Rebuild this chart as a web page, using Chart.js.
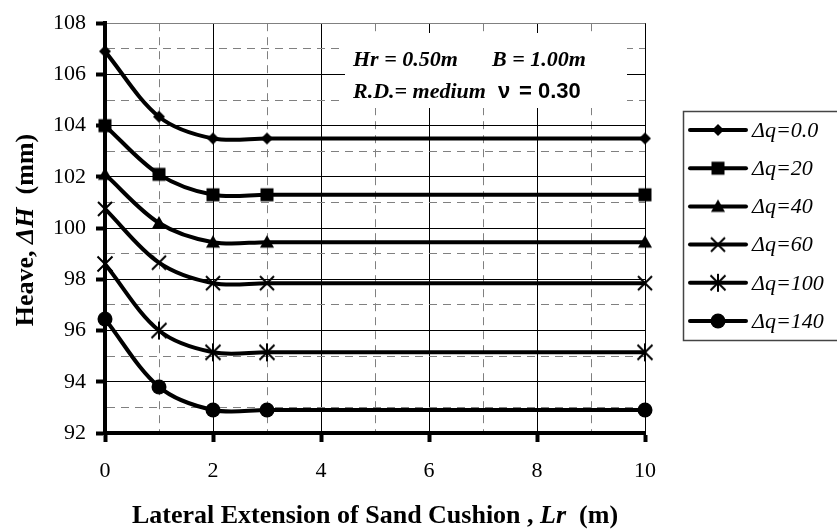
<!DOCTYPE html>
<html>
<head>
<meta charset="utf-8">
<script src="https://cdn.jsdelivr.net/npm/chart.js@4/dist/chart.umd.min.js"></script>
<style>
  html, body { margin: 0; padding: 0; background: #fff; }
  #wrap { width: 837px; height: 531px; }
</style>
</head>
<body>
<div id="wrap"><canvas id="heave"></canvas></div>
<script>
// lateral extension Lr (m)
const lrValues = [0, 1, 2, 3, 10];

// heave (mm) for each load increment
const heaveDq0 = [106.9, 104.35, 103.5, 103.5, 103.5];
const heaveDq20 = [104.0, 102.1, 101.3, 101.3, 101.3];
const heaveDq40 = [102.1, 100.2, 99.45, 99.45, 99.45];
const heaveDq60 = [100.75, 98.65, 97.85, 97.85, 97.85];
const heaveDq100 = [98.6, 96.0, 95.15, 95.15, 95.15];
const heaveDq140 = [96.45, 93.8, 92.9, 92.9, 92.9];

const seriesLabels = ['Δq=0.0', 'Δq=20', 'Δq=40', 'Δq=60', 'Δq=100', 'Δq=140'];
const markerKinds = ['diamond', 'square', 'triangle', 'cross', 'asterisk', 'circle'];

const yTicks = { min: 92, max: 108, step: 1 };
const xTicks = { min: 0, max: 10, step: 1 };

const SERIF = '"Liberation Serif", "Times New Roman", serif';
const SANS = '"Liberation Sans", Arial, sans-serif';

// small black marker images, shared by the lines and the legend
function makeMarker(kind) {
  const c = document.createElement('canvas');
  c.width = 24; c.height = 24;
  const g = c.getContext('2d');
  g.translate(12, 12);
  g.fillStyle = '#000';
  g.strokeStyle = '#000';
  g.lineWidth = 2;
  g.beginPath();
  if (kind === 'diamond') {
    g.moveTo(0, -6); g.lineTo(6, 0); g.lineTo(0, 6); g.lineTo(-6, 0); g.closePath(); g.fill();
  } else if (kind === 'square') {
    g.rect(-6.5, -6.5, 13, 13); g.fill();
  } else if (kind === 'triangle') {
    g.moveTo(0, -7); g.lineTo(7, 5.5); g.lineTo(-7, 5.5); g.closePath(); g.fill();
  } else if (kind === 'cross') {
    g.moveTo(-7, -7); g.lineTo(7, 7); g.moveTo(7, -7); g.lineTo(-7, 7); g.stroke();
  } else if (kind === 'asterisk') {
    g.moveTo(-7.5, -7.5); g.lineTo(7.5, 7.5); g.moveTo(7.5, -7.5); g.lineTo(-7.5, 7.5);
    g.moveTo(0, -9); g.lineTo(0, 9); g.stroke();
  } else {
    g.arc(0, 0, 7.5, 0, Math.PI * 2); g.fill();
  }
  return c;
}
const markers = markerKinds.map(makeMarker);

const seriesData = [heaveDq0, heaveDq20, heaveDq40, heaveDq60, heaveDq100, heaveDq140];
const datasets = seriesData.map((vals, i) => ({
  label: seriesLabels[i],
  data: lrValues.map((x, j) => ({ x: x, y: vals[j] })),
  borderColor: '#000',
  backgroundColor: '#000',
  borderWidth: 4,
  tension: 0.33,
  pointStyle: markers[i],
  pointRadius: 6,
  clip: false
}));

function isMajor(v) { return Math.round(v) % 2 === 0; }

function drawRuns(ctx, runs, x, y, align) {
  let total = 0;
  runs.forEach(r => { ctx.font = r.font; r.w = ctx.measureText(r.text).width; total += r.w; });
  let cx = align === 'center' ? x - total / 2 : x;
  runs.forEach(r => { ctx.font = r.font; ctx.fillText(r.text, cx, y); cx += r.w; });
}

const extras = {
  id: 'extras',
  beforeDatasetsDraw(chart) {
    const ctx = chart.ctx;
    ctx.save();
    // parameters box over the grid
    ctx.fillStyle = '#fff';
    ctx.fillRect(345, 33, 282, 75);
    ctx.fillStyle = '#000';
    ctx.textBaseline = 'alphabetic';
    ctx.textAlign = 'left';
    const bi = 'italic bold 22px ' + SERIF;
    ctx.font = bi;
    ctx.fillText('Hr = 0.50m', 353, 66);
    ctx.fillText('B = 1.00m', 492, 66);
    ctx.fillText('R.D.= medium', 353, 98);
    ctx.font = 'bold 22px ' + SANS;
    ctx.fillText('ν', 498, 98);
    ctx.fillText('= 0.30', 519, 98);
    ctx.restore();
  },
  afterDraw(chart) {
    const ctx = chart.ctx;
    ctx.save();
    ctx.fillStyle = '#000';
    ctx.textAlign = 'left';
    ctx.textBaseline = 'alphabetic';
    const b = 'bold 26px ' + SERIF;
    const bi = 'italic bold 26px ' + SERIF;

    // x axis title
    drawRuns(ctx, [
      { text: 'Lateral Extension of Sand Cushion , ', font: b },
      { text: 'Lr', font: bi },
      { text: '  (m)', font: b }
    ], (chart.chartArea.left + chart.chartArea.right) / 2, 523, 'center');

    // y axis title
    ctx.save();
    ctx.translate(33, 230);
    ctx.rotate(-Math.PI / 2);
    drawRuns(ctx, [
      { text: 'Heave, ', font: b },
      { text: 'ΔH', font: bi },
      { text: '  (mm)', font: b }
    ], 0, 0, 'center');
    ctx.restore();

    // legend
    ctx.strokeStyle = '#444';
    ctx.lineWidth = 1.5;
    ctx.strokeRect(683.5, 111.5, 170, 229);
    ctx.textBaseline = 'middle';
    ctx.font = 'italic 22px ' + SERIF;
    seriesLabels.forEach((lab, i) => {
      const y = 130 + i * 38.2;
      ctx.beginPath();
      ctx.lineWidth = 4;
      ctx.strokeStyle = '#000';
      ctx.lineCap = 'round';
      ctx.moveTo(690, y);
      ctx.lineTo(746, y);
      ctx.stroke();
      ctx.drawImage(markers[i], 718 - 12, y - 12);
      ctx.fillText(lab, 752, y + 1);
    });
    ctx.restore();
  }
};

const tickFont = { family: SERIF, size: 22 };

new Chart(document.getElementById('heave'), {
  type: 'line',
  data: { datasets: datasets },
  plugins: [extras],
  options: {
    responsive: true,
    maintainAspectRatio: false,
    animation: false,
    events: [],
    layout: { padding: { top: 18, right: 192, left: 0, bottom: 0 } },
    plugins: { legend: { display: false }, tooltip: { enabled: false } },
    scales: {
      x: {
        type: 'linear',
        min: xTicks.min,
        max: xTicks.max,
        afterFit(scale) { scale.height = 98; },
        ticks: {
          stepSize: xTicks.step,
          autoSkip: false,
          maxRotation: 0,
          color: '#000',
          font: tickFont,
          padding: 16,
          callback: v => isMajor(v) ? v : ''
        },
        grid: {
          color: c => isMajor(c.tick.value) ? '#000' : '#808080',
          lineWidth: 1,
          tickLength: 9,
          tickWidth: 4,
          tickBorderDash: [],
          tickColor: c => isMajor(c.tick.value) ? '#000' : 'rgba(0,0,0,0)'
        },
        border: {
          display: true,
          color: '#000',
          width: 4,
          dash: c => (c.tick && !isMajor(c.tick.value)) ? [8, 6] : []
        }
      },
      y: {
        type: 'linear',
        min: yTicks.min,
        max: yTicks.max,
        afterFit(scale) { scale.width = 105; },
        ticks: {
          stepSize: yTicks.step,
          autoSkip: false,
          color: '#000',
          font: tickFont,
          padding: 10,
          callback: v => isMajor(v) ? v : ''
        },
        grid: {
          color: c => (isMajor(c.tick.value) && c.tick.value !== yTicks.max) ? '#000' : '#808080',
          lineWidth: 1,
          tickLength: 9,
          tickWidth: 4,
          tickBorderDash: [],
          tickColor: c => isMajor(c.tick.value) ? '#000' : 'rgba(0,0,0,0)'
        },
        border: {
          display: true,
          color: '#000',
          width: 4,
          dash: c => (c.tick && !isMajor(c.tick.value)) ? [8, 6] : []
        }
      }
    }
  }
});
</script>
</body>
</html>
